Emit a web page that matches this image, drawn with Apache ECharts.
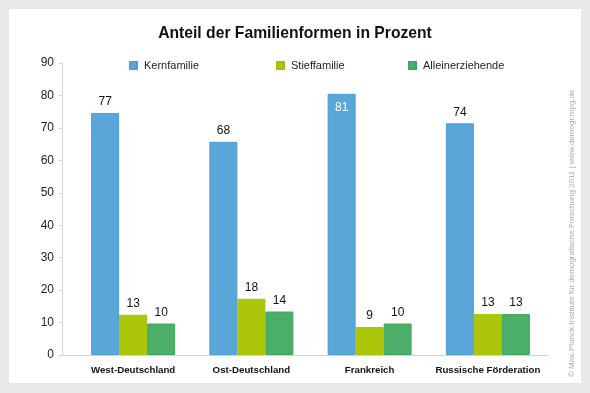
<!DOCTYPE html>
<html>
<head>
<meta charset="utf-8">
<script src="https://cdn.jsdelivr.net/npm/echarts@6/dist/echarts.min.js"></script>
<style>html,body{margin:0;padding:0;background:#e8e8e8;}#c{width:590px;height:393px;}</style>
</head>
<body>
<div id="c"></div>
<script>
var categories = ['West-Deutschland', 'Ost-Deutschland', 'Frankreich', 'Russische Förderation'];
var seriesNames = ['Kernfamilie', 'Stieffamilie', 'Alleinerziehende'];
// bar heights as drawn in the picture
var kernValues = [74.6, 65.7, 80.5, 71.4];
var stiefValues = [12.4, 17.3, 8.6, 12.6];
var alleinValues = [9.7, 13.4, 9.7, 12.6];
// printed value labels
var kernLabels = [77, 68, 81, 74];
var stiefLabels = [13, 18, 9, 13];
var alleinLabels = [10, 14, 10, 13];
var yTicks = [0, 10, 20, 30, 40, 50, 60, 70, 80, 90];

var FONT = '"Liberation Sans", Arial, sans-serif';
var colors = ['#5ba6d9', '#adc60a', '#4caf69'];
var borders = ['#4c9cd6', '#a6c104', '#41a65f'];

function mkSeries(i, values, labels, insideIdx) {
  return {
    name: seriesNames[i],
    type: 'bar',
    xAxisIndex: 1,
    yAxisIndex: 1,
    barWidth: 28,
    barGap: '0%',
    itemStyle: { color: colors[i], borderColor: borders[i], borderWidth: 1 },
    label: {
      show: true, position: 'top', distance: 5,
      fontFamily: FONT, fontSize: 12, color: '#111',
      formatter: function (p) { return String(labels[p.dataIndex]); }
    },
    data: values.map(function (v, k) {
      if (insideIdx.indexOf(k) >= 0) {
        return { value: v, label: { position: 'insideTop', distance: 8, color: '#fff' } };
      }
      return v;
    })
  };
}

var legendBase = {
  itemWidth: 7, itemHeight: 7, icon: 'rect', top: 55,
  textStyle: { fontFamily: FONT, fontSize: 11, color: '#222', padding: [0, 0, 0, 2] }
};
function mkLegend(name, left) {
  return Object.assign({}, legendBase, { left: left, data: [name] });
}

var chart = echarts.init(document.getElementById('c'));
chart.setOption({
  backgroundColor: '#e8e8e8',
  animation: false,
  title: {
    text: 'Anteil der Familienformen in Prozent',
    left: 'center', top: 21,
    textStyle: { fontFamily: FONT, fontSize: 15.7, fontWeight: 'bold', color: '#111' }
  },
  graphic: [
    { type: 'rect', z: -10, left: 9, top: 9, shape: { width: 572, height: 374 }, style: { fill: '#ffffff' } },
    { type: 'text', x: 572, y: 377, rotation: Math.PI / 2, z: 10,
      style: { text: '© Max-Planck-Institute für demografische Forschung 2011 | www.demogr.mpg.de',
        font: '8px ' + FONT, fill: '#aaaaaa', align: 'left', verticalAlign: 'middle' } }
  ],
  legend: [mkLegend(seriesNames[0], 124), mkLegend(seriesNames[1], 271), mkLegend(seriesNames[2], 403)],
  grid: [
    { left: 62, right: 42, top: 63, bottom: 38 },
    { left: 74, width: 473, top: 63, bottom: 38 }
  ],
  xAxis: [
    { type: 'value', gridIndex: 0, min: 0, max: 1,
      axisLine: { show: true, lineStyle: { color: '#d4d4d4', width: 1 } },
      axisTick: { show: false }, axisLabel: { show: false }, splitLine: { show: false } },
    { type: 'category', gridIndex: 1, data: categories,
      axisLine: { show: false }, axisTick: { show: false },
      axisLabel: { interval: 0, margin: 10, fontFamily: FONT, fontSize: 9.7, fontWeight: 'bold', color: '#111' } }
  ],
  yAxis: [
    { type: 'value', gridIndex: 0, min: yTicks[0], max: yTicks[yTicks.length - 1], interval: 10,
      axisLine: { show: true, lineStyle: { color: '#d4d4d4' } },
      axisTick: { show: true, length: 3, lineStyle: { color: '#d4d4d4' } },
      axisLabel: { margin: 8, fontFamily: FONT, fontSize: 12, color: '#222' },
      splitLine: { show: false } },
    { type: 'value', gridIndex: 1, min: yTicks[0], max: yTicks[yTicks.length - 1], interval: 10,
      show: false, splitLine: { show: false } }
  ],
  series: [
    mkSeries(0, kernValues, kernLabels, [2]),
    mkSeries(1, stiefValues, stiefLabels, []),
    mkSeries(2, alleinValues, alleinLabels, [])
  ]
});
</script>
</body>
</html>
